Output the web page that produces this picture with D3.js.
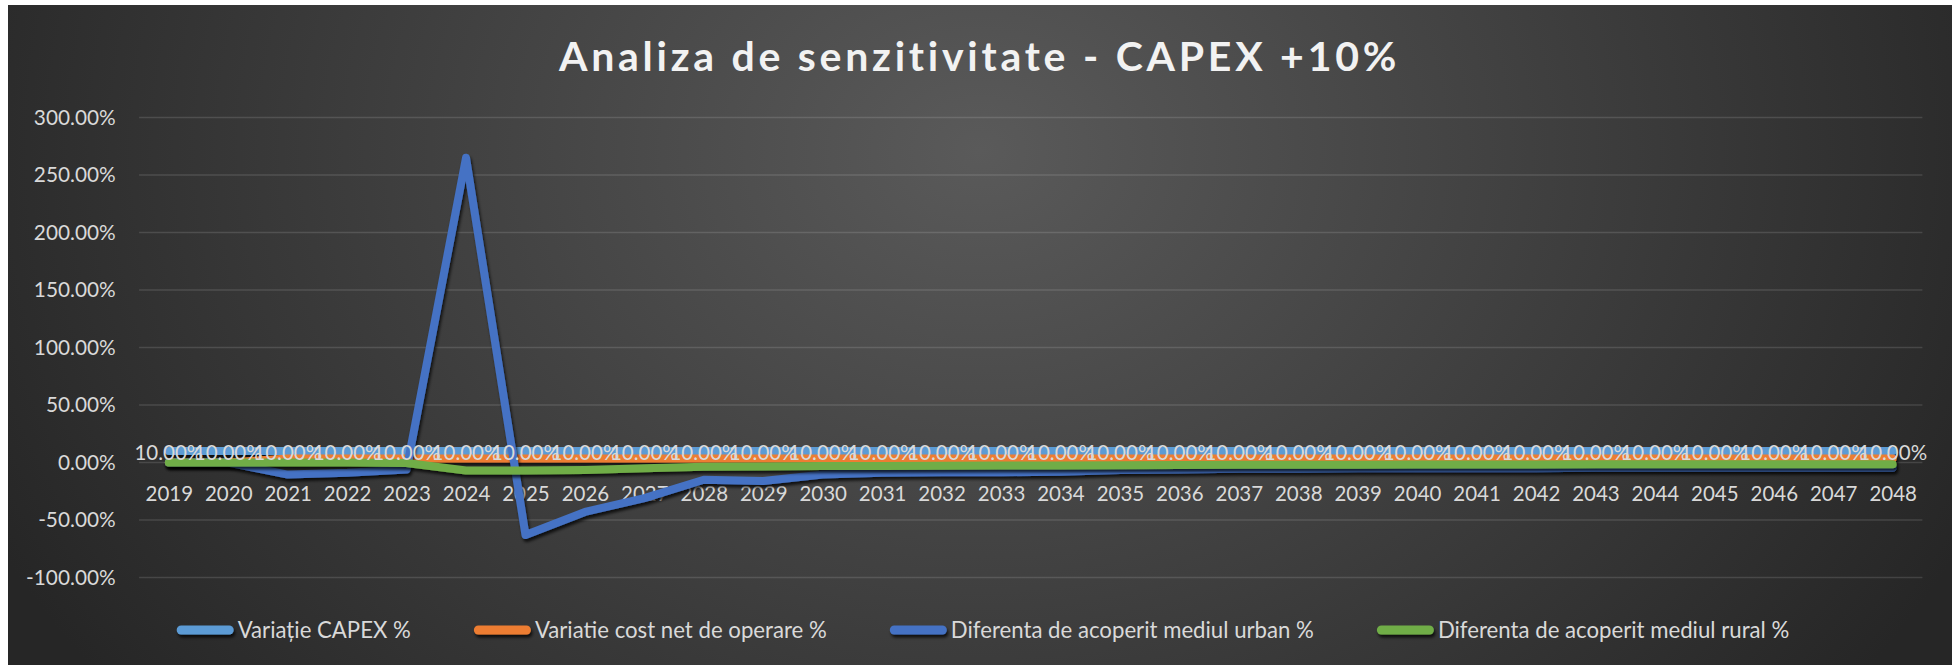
<!DOCTYPE html>
<html>
<head>
<meta charset="utf-8">
<script src="https://cdn.jsdelivr.net/npm/d3@7"></script>
<style>
html,body{margin:0;padding:0;background:#ffffff;overflow:hidden}
svg{display:block}
</style>
</head>
<body>
<svg id="chart" width="1959" height="665"></svg>
<script>
// ---------- DATA ----------
const years = [2019,2020,2021,2022,2023,2024,2025,2026,2027,2028,2029,2030,2031,2032,2033,
               2034,2035,2036,2037,2038,2039,2040,2041,2042,2043,2044,2045,2046,2047,2048];
const capexVariation = [10,10,10,10,10,10,10,10,10,10,10,10,10,10,10,
                        10,10,10,10,10,10,10,10,10,10,10,10,10,10,10];
const costNetVariation = [0,0,3.5,3.5,3.5,3.5,3.5,3.5,3.5,3.5,3.5,3.5,3.5,3.5,3.5,
                          3.5,3.5,3.5,3.5,3.5,3.5,3.5,3.5,3.5,3.5,3.5,3.5,3.5,3.5,3.5];
const urbanGap = [0,0,-10.5,-9,-6,265,-63,-43,-31,-15,-16,-10.5,-9,-8.5,-8.5,
                  -8,-6.5,-6,-5.5,-5.5,-5,-5,-5,-5,-4.5,-4.5,-4.5,-4.5,-4.5,-4.5];
const ruralGap = [0,0,0,0,-0.5,-7,-7,-6.5,-5,-3.8,-3.5,-3,-3,-2.8,-2.6,
                  -2.5,-2.3,-2.2,-2,-2,-1.9,-1.8,-1.8,-1.7,-1.6,-1.6,-1.5,-1.5,-1.5,-1.5];
const seriesNames = ["Variație CAPEX %","Variatie cost net de operare %",
                     "Diferenta de acoperit mediul urban %","Diferenta de acoperit mediul rural %"];
const seriesColors = ["#5B9BD5","#ED7D31","#4472C4","#70AD47"];
const yTickValues = [-100,-50,0,50,100,150,200,250,300];
const titleText = "Analiza de senzitivitate - CAPEX +10%";

const seriesData = [capexVariation, costNetVariation, urbanGap, ruralGap];

// ---------- LAYOUT ----------
const svg = d3.select("#chart");
const FONT = "Lato, 'Open Sans', sans-serif";
const textColor = "#d9d9d9";
const chartBox = {x:8, y:5, w:1944, h:660};
const plot = {left:139.1, right:1922.4, yTop:117.5, yBottom:577.5};

const defs = svg.append("defs");
const grad = defs.append("radialGradient")
  .attr("id","bg").attr("gradientUnits","userSpaceOnUse")
  .attr("cx",980).attr("cy",150).attr("r",1100)
  .attr("gradientTransform","translate(980,150) scale(1,0.8) translate(-980,-150)");
grad.append("stop").attr("offset","0%").attr("stop-color","#5a5a5a");
grad.append("stop").attr("offset","100%").attr("stop-color","#262626");

const shadow = defs.append("filter").attr("id","shadow")
  .attr("filterUnits","userSpaceOnUse")
  .attr("x",0).attr("y",0).attr("width",1959).attr("height",665);
shadow.append("feDropShadow").attr("dx",1.5).attr("dy",3).attr("stdDeviation",1.8)
  .attr("flood-color","#000").attr("flood-opacity",0.75);

svg.append("rect").attr("x",chartBox.x).attr("y",chartBox.y)
  .attr("width",chartBox.w).attr("height",chartBox.h).attr("fill","url(#bg)");

// ---------- SCALES ----------
const x = d3.scalePoint().domain(years).range([plot.left, plot.right]).padding(0.5);
const y = d3.scaleLinear().domain([-100,300]).range([plot.yBottom, plot.yTop]);

// gridlines
svg.append("g").selectAll("line").data(yTickValues).join("line")
  .attr("x1",plot.left).attr("x2",plot.right)
  .attr("y1",d=>y(d)).attr("y2",d=>y(d))
  .attr("stroke","rgba(255,255,255,0.13)").attr("stroke-width",1.5);

// y axis
const yAxis = svg.append("g").attr("transform",`translate(${plot.left},0)`)
  .call(d3.axisLeft(y).tickValues(yTickValues).tickSize(0).tickPadding(23.4)
        .tickFormat(d=>d.toFixed(2)+"%"));
yAxis.select(".domain").remove();
yAxis.selectAll("text").attr("fill",textColor).style("font-family",FONT).style("font-size","20.8px");

// x axis
const xAxis = svg.append("g").attr("transform",`translate(0,${y(0)})`)
  .call(d3.axisBottom(x).tickSize(0).tickPadding(23.6));
xAxis.select(".domain").remove();
xAxis.selectAll("text").attr("fill",textColor).style("font-family",FONT).style("font-size","20.5px");

// ---------- LINES ----------
const line = d3.line().x((d,i)=>x(years[i])).y(d=>y(d));
svg.append("g").selectAll("path").data(seriesData).join("path")
  .attr("d",d=>line(d))
  .attr("fill","none")
  .attr("stroke",(d,i)=>seriesColors[i])
  .attr("stroke-width",8)
  .attr("stroke-linejoin","round")
  .attr("stroke-linecap","round")
  .attr("filter","url(#shadow)");

// data labels for CAPEX series
svg.append("g").selectAll("text").data(capexVariation).join("text")
  .attr("x",(d,i)=>x(years[i]))
  .attr("y",d=>y(d)+8.7)
  .attr("text-anchor","middle")
  .attr("fill",textColor)
  .style("font-family",FONT).style("font-size","20.5px")
  .text(d=>d.toFixed(2)+"%");

// ---------- TITLE ----------
const title = svg.append("text")
  .attr("x",559).attr("y",71)
  .attr("fill","#f2f2f2")
  .style("font-family",FONT).style("font-size","41px").style("font-weight","700")
  .text(titleText);
const tw = title.node().getComputedTextLength();
const targetW = 838;
const ls = (targetW - tw) / (titleText.length - 1);
title.style("letter-spacing", ls + "px");

// ---------- LEGEND ----------
const legendY = 630;
const lineLen = 57, lineGap = 4, itemGap = 63;
const legend = svg.append("g");
const items = legend.selectAll("g").data(seriesNames).join("g");
items.append("text")
  .attr("y",legendY+7.6)
  .attr("fill",textColor)
  .style("font-family",FONT).style("font-size","22.2px")
  .text(d=>d);
const widths = [];
items.select("text").each(function(){ widths.push(this.getComputedTextLength()); });
const total = d3.sum(widths) + seriesNames.length*(lineLen+lineGap) + (seriesNames.length-1)*itemGap;
let cursor = 983 - total/2;
items.each(function(d,i){
  const g = d3.select(this);
  g.insert("line","text")
    .attr("x1",cursor+4.5).attr("x2",cursor+lineLen-4.5)
    .attr("y1",legendY).attr("y2",legendY)
    .attr("stroke",seriesColors[i]).attr("stroke-width",9)
    .attr("stroke-linecap","round")
    .attr("filter","url(#shadow)");
  g.select("text").attr("x",cursor+lineLen+lineGap);
  cursor += lineLen + lineGap + widths[i] + itemGap;
});
</script>
</body>
</html>
